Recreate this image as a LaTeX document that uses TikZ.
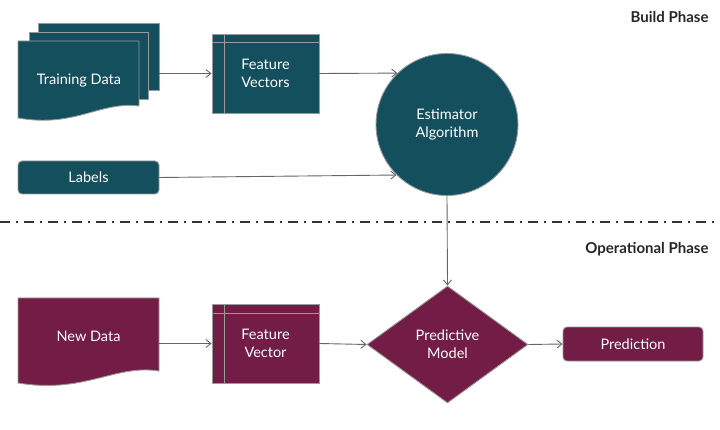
\documentclass[tikz,border=0pt]{standalone}
\usepackage{fontspec}
\setmainfont{Lato}
\usetikzlibrary{arrows.meta,shapes.geometric,positioning}

\definecolor{buildcol}{HTML}{134F5C}
\definecolor{opcol}{HTML}{731C45}
\definecolor{edgecol}{HTML}{9A9A9A}
\definecolor{linkcol}{HTML}{666666}

\tikzset{
  sheet/.style={draw=edgecol, line width=0.9pt},
  label text/.style={text=white, font=\fontsize{14.5}{18}\selectfont, align=center},
  flow/.style={draw=linkcol, line width=0.9pt, -{Straight Barb[length=5pt,width=8pt]}},
  phase/.style={anchor=east, text=black!85, font=\fontsize{15}{18}\bfseries}
}

\begin{document}
\begin{tikzpicture}[x=1pt,y=-1pt]

  \useasboundingbox (0,0) rectangle (720,430);

%%%%%%%%%%%%%%%%%%%%%%%%%%%%%%%%%%%%%%%%%%
  % Build phase
  \begin{scope}
    % Stack of training sheets
    \node[sheet, fill=buildcol, minimum width=121, minimum height=67] (back) at (98.5,56.5) {};
    \node[sheet, fill=buildcol, minimum width=119, minimum height=67] (mid) at (88.5,65.5) {};
    \draw[sheet, fill=buildcol] (18,41) -- (139,41) -- (139,106)
      .. controls (100,101) and (75,128) .. (18,118) -- cycle;
    \node[label text] (train) at (79,81) {Training Data};

    % Feature vectors
    \node[sheet, fill=buildcol, minimum width=107, minimum height=79, label text] (fvb) at (265.5,73.5) {Feature\\Vectors};
    \draw[sheet] ([xshift=13pt]fvb.north west) -- ([xshift=13pt]fvb.south west);
    \draw[sheet] ([yshift=-9pt]fvb.north west) -- ([yshift=-9pt]fvb.north east);

    % Labels
    \node[sheet, fill=buildcol, rounded corners=4pt, minimum width=141, minimum height=33, label text] (labels) at (88.5,177.5) {Labels};

    % Estimator
    \node[sheet, fill=buildcol, circle, minimum size=142, label text] (est) at (447,124.5) {Estimator\\Algorithm};

    \draw[flow] (back.east |- fvb.west) -- (fvb.west);
    \draw[flow] (fvb.east) -- (est.134);
    \draw[flow] (labels.east) -- (est.225);

    \node[phase] (buildlbl) at (712,17) {Build Phase};
  \end{scope}

  % Separator
  \draw[black!80, line width=1.2pt, dash pattern=on 10pt off 6pt on 2pt off 6pt] (0,222) -- (720,222);

%%%%%%%%%%%%%%%%%%%%%%%%%%%%%%%%%%%%%%%%%%
  % Operational phase
  \begin{scope}
    % New data sheet
    \draw[sheet, fill=opcol] (18,298) -- (159,298) -- (159,371)
      .. controls (115,364) and (85,394) .. (18,383) -- cycle;
    \node[label text, minimum width=141] (newdata) at (88.5,336) {New Data};

    % Feature vector
    \node[sheet, fill=opcol, minimum width=107, minimum height=79, label text] (fv) at (265.5,343.5) {Feature\\Vector};
    \draw[sheet] ([xshift=13pt]fv.north west) -- ([xshift=13pt]fv.south west);
    \draw[sheet] ([yshift=-10pt]fv.north west) -- ([yshift=-10pt]fv.north east);

    % Model and prediction
    \node[sheet, fill=opcol, diamond, minimum width=161, minimum height=117, inner sep=0pt, label text] (model) at (447.5,344.5) {Predictive\\Model};
    \node[sheet, fill=opcol, rounded corners=4pt, minimum width=140, minimum height=34, label text] (pred) at (633,344) {Prediction};

    \draw[flow] (newdata.east |- fv.west) -- (fv.west);
    \draw[flow] (fv.east) -- (model.west);
    \draw[flow] (model.east) -- (pred.west);
    \draw[flow] (est.south) -- (model.north);

    \node[phase] (oplbl) at (712,249) {Operational Phase};
  \end{scope}

\end{tikzpicture}
\end{document}
